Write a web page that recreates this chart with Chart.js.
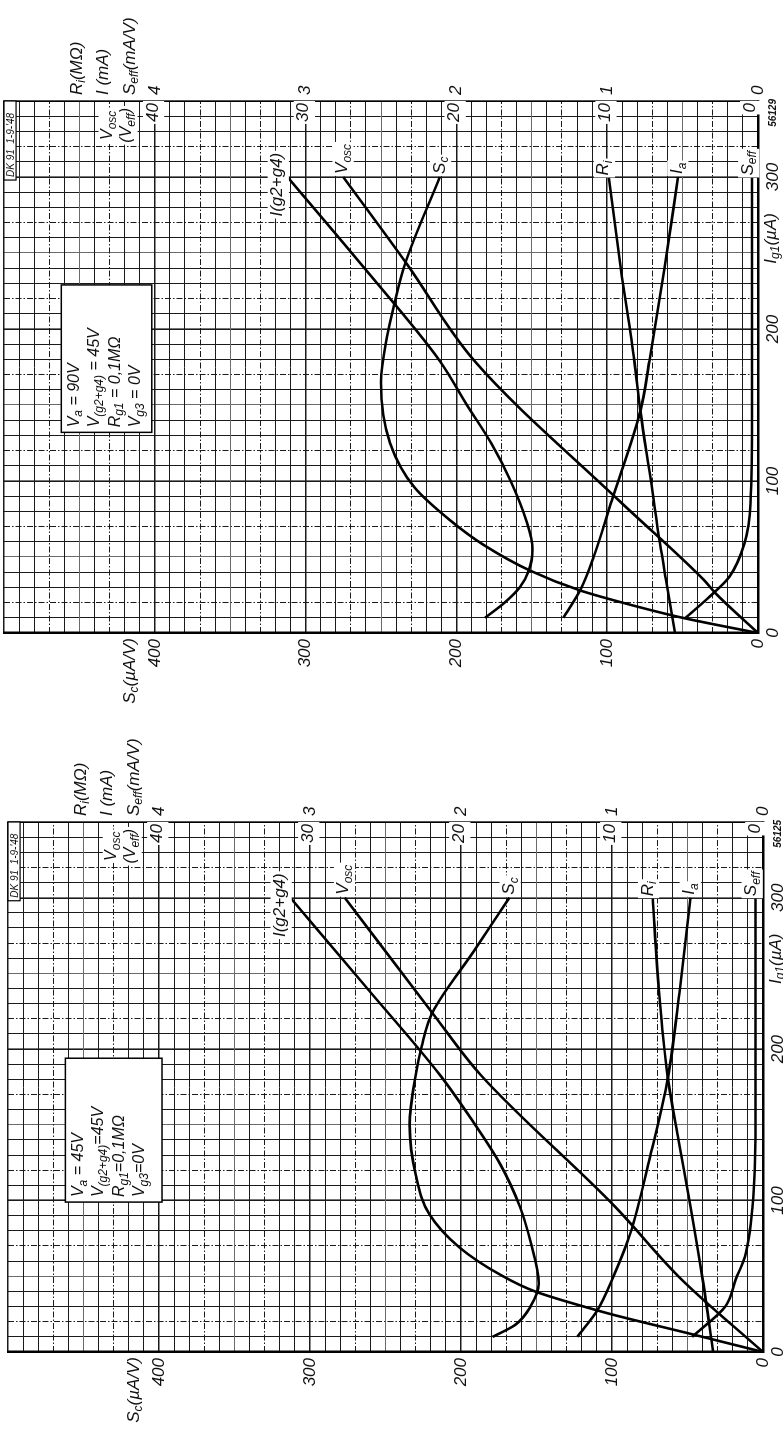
<!DOCTYPE html>
<html>
<head>
<meta charset="utf-8">
<title>DK 91 – conversion characteristics</title>
<script src="https://cdn.jsdelivr.net/npm/chart.js@4.4.1/dist/chart.umd.min.js"></script>
<style>
  html, body { margin: 0; padding: 0; background: #fff; }
  #sheet { position: relative; width: 783px; height: 1435px; overflow: hidden; background: #fff; }
  .panel { position: absolute; left: 0; width: 783px; }
  .turn { position: absolute; left: 0; top: 0; transform-origin: 0 0; }
  canvas { display: block; }
</style>
</head>
<body>
<div id="sheet">
  <div class="panel" style="top:0;height:718px">
    <div class="turn" style="width:718px;height:783px;transform:translate(0,718px) rotate(-90deg)">
      <canvas id="va90" width="718" height="783"></canvas>
    </div>
  </div>
  <div class="panel" style="top:718px;height:717px">
    <div class="turn" style="width:717px;height:783px;transform:translate(0,717px) rotate(-90deg)">
      <canvas id="va45" width="717" height="783"></canvas>
    </div>
  </div>
</div>
<script>
// ---- axis ranges and tick labels ----
const IG1_MAX = 350;          // µA
const VALUE_MAX = 5;          // Ri (MΩ), I (mA), Seff (mA/V)
const ig1TickLabels = [0, 100, 200, 300];
const mainTickLabels = [0, 1, 2, 3, 4];
const voscTickLabels = [0, 10, 20, 30, 40];
const scTickLabels = [0, 100, 200, 300, 400];

// ---- Va = 90 V ----
const ig1_Igs_90 = [10, 20, 30, 41, 55, 75, 100, 125, 150, 179, 240, 300];
const Igs_90 = [1.81, 1.68, 1.58, 1.52, 1.495, 1.54, 1.64, 1.77, 1.93, 2.11, 2.61, 3.12];
const ig1_Vosc_90 = [0, 26, 35, 87, 179, 243, 300];
const Vosc_90 = [0, 2.8, 3.6, 9.2, 18.8, 23.3, 27.5];
const ig1_Sc_90 = [0, 10, 20, 28, 41, 58, 74, 96, 125, 165, 195, 217, 243, 300];
const Sc_90 = [0, 50, 90, 118, 151, 182, 204, 228, 244, 250, 246, 241, 234, 211];
const ig1_Ri_90 = [0, 35, 59, 100, 146, 179, 240, 300];
const Ri_90 = [0.55, 0.61, 0.65, 0.71, 0.78, 0.82, 0.91, 0.99];
const ig1_Ia_90 = [10, 28, 50, 87, 146, 179, 240, 300];
const Ia_90 = [1.29, 1.18, 1.09, 0.97, 0.78, 0.72, 0.62, 0.53];
const ig1_Seff_90 = [10, 24, 37, 59, 85, 150, 300];
const Seff_90 = [0.48, 0.32, 0.19, 0.09, 0.05, 0.04, 0.04];
const params_90 = ['V_{a} = 90V', 'V_{(g2+g4)} = 45V', 'R_{g1} = 0,1MΩ', 'V_{g3} = 0V'];

// ---- Va = 45 V ----
const ig1_Igs_45 = [10, 18, 30, 45, 73, 96, 124, 155, 183, 240, 300];
const Igs_45 = [1.79, 1.64, 1.54, 1.485, 1.54, 1.61, 1.74, 1.94, 2.14, 2.62, 3.13];
const ig1_Vosc_45 = [0, 48, 96, 183, 224, 300];
const Vosc_45 = [0, 5.4, 9.8, 18.7, 21.9, 27.7];
const ig1_Sc_45 = [0, 12, 23, 27, 40, 51, 69, 91, 117, 150, 183, 202, 224, 264, 300];
const Sc_45 = [0, 48, 93, 108, 151, 174, 201, 221, 230, 234, 230, 226, 219, 192, 168];
const ig1_Ri_45 = [0, 48, 96, 140, 181, 240, 300];
const Ri_45 = [0.33, 0.40, 0.48, 0.56, 0.63, 0.69, 0.73];
const ig1_Ia_45 = [10, 27, 50, 78, 128, 181, 240, 300];
const Ia_45 = [1.23, 1.10, 0.99, 0.88, 0.75, 0.63, 0.55, 0.48];
const ig1_Seff_45 = [10, 30, 48, 63, 96, 150, 300];
const Seff_45 = [0.47, 0.25, 0.18, 0.12, 0.07, 0.05, 0.05];
const params_45 = ['V_{a} = 45V', 'V_{(g2+g4)}=45V', 'R_{g1}=0,1MΩ', 'V_{g3}=0V'];

// ---- lettering ----
const FONT = "'Liberation Sans', Arial, sans-serif";
const INK = '#111';
function font(size, weight) { return 'italic ' + (weight || 'normal') + ' ' + size + 'px ' + FONT; }

// "V_{osc}" -> [{t:'V'}, {t:'osc', sub:true}]
function parseRich(s) {
  const out = []; const re = /_\{([^}]*)\}/g; let last = 0, m;
  while ((m = re.exec(s))) {
    if (m.index > last) out.push({ t: s.slice(last, m.index), sub: false });
    out.push({ t: m[1], sub: true });
    last = re.lastIndex;
  }
  if (last < s.length) out.push({ t: s.slice(last), sub: false });
  return out;
}

function drawRich(ctx, str, x, y, o) {
  o = o || {};
  const size = o.size || 17, subSize = Math.round(size * 0.72);
  const parts = parseRich(str);
  ctx.save();
  ctx.textBaseline = 'middle';
  ctx.textAlign = 'left';
  let w = 0;
  for (const p of parts) { ctx.font = font(p.sub ? subSize : size, o.weight); p.w = ctx.measureText(p.t).width; w += p.w; }
  let x0 = o.align === 'right' ? x - w : (o.align === 'center' ? x - w / 2 : x);
  if (o.bg) {
    ctx.fillStyle = '#fff';
    ctx.fillRect(x0 - 2, y - size * 0.58, w + 4, size * 1.25);
  }
  ctx.fillStyle = INK;
  for (const p of parts) {
    ctx.font = font(p.sub ? subSize : size, o.weight);
    ctx.fillText(p.t, x0, p.sub ? y + size * 0.3 : y);
    x0 += p.w;
  }
  ctx.restore();
}

// ---- panel descriptions ----
function curveSet(igs, vosc, sc, ri, ia, seff) {
  return [
    { name: 'I(g2+g4)', xs: igs[0], ys: igs[1], axis: 'y', dx: 274, dy: -10 },
    { name: 'V_{osc}', xs: vosc[0], ys: vosc[1], axis: 'yV', dx: 302, dy: -1 },
    { name: 'S_{c}', xs: sc[0], ys: sc[1], axis: 'ySc', dx: 302, dy: 0 },
    { name: 'R_{i}', xs: ri[0], ys: ri[1], axis: 'y', dx: 301, dy: -5 },
    { name: 'I_{a}', xs: ia[0], ys: ia[1], axis: 'y', dx: 302, dy: -1 },
    { name: 'S_{eff}', xs: seff[0], ys: seff[1], axis: 'y', dx: 301, dy: -4 }
  ];
}

const panels = {
  va90: {
    leftW: 85, rightW: 101, padTop: 4, bottomH: 25, code: '56129',
    params: params_90, box: { x0: 132, x1: 229, y0: 4.02, y1: 4.62 },
    curves: curveSet([ig1_Igs_90, Igs_90], [ig1_Vosc_90, Vosc_90], [ig1_Sc_90, Sc_90],
                     [ig1_Ri_90, Ri_90], [ig1_Ia_90, Ia_90], [ig1_Seff_90, Seff_90])
  },
  va45: {
    leftW: 83, rightW: 104, padTop: 8, bottomH: 20, code: '56125',
    params: params_45, box: { x0: 99, x1: 194, y0: 3.98, y1: 4.62 },
    curves: curveSet([ig1_Igs_45, Igs_45], [ig1_Vosc_45, Vosc_45], [ig1_Sc_45, Sc_45],
                     [ig1_Ri_45, Ri_45], [ig1_Ia_45, Ia_45], [ig1_Seff_45, Seff_45])
  }
};

// ---- sheet lettering drawn from the chart scales ----
const sheetText = {
  id: 'sheetText',
  beforeDatasetsDraw(chart) {
    const p = panels[chart.canvas.id];
    const ctx = chart.ctx, area = chart.chartArea;
    const sx = chart.scales.x, sy = chart.scales.y, sv = chart.scales.yV;

    // operating conditions box
    const bx0 = sx.getPixelForValue(p.box.x0), bx1 = sx.getPixelForValue(p.box.x1);
    const by0 = sy.getPixelForValue(p.box.y1), by1 = sy.getPixelForValue(p.box.y0);
    ctx.save();
    ctx.fillStyle = '#fff';
    ctx.fillRect(bx0, by0, bx1 - bx0, by1 - by0);
    ctx.strokeStyle = '#000'; ctx.lineWidth = 1.5;
    ctx.strokeRect(bx0, by0, bx1 - bx0, by1 - by0);
    ctx.restore();
    p.params.forEach((line, i) => drawRich(ctx, line, bx0 + 5, by0 + 13 + i * 20.5, { size: 16 }));

    // drawing reference box
    const dx0 = sx.getPixelForValue(298), dx1 = area.right;
    const dy0 = area.top, dy1 = sy.getPixelForValue(4.92);
    ctx.save();
    ctx.fillStyle = '#fff'; ctx.fillRect(dx0, dy0, dx1 - dx0, dy1 - dy0);
    ctx.strokeStyle = '#000'; ctx.lineWidth = 1.2; ctx.strokeRect(dx0, dy0, dx1 - dx0, dy1 - dy0);
    ctx.restore();
    drawRich(ctx, "DK 91  1-9-'48", dx0 + 3, (dy0 + dy1) / 2 + 1, { size: 10 });

    // oscillator voltage scale inside the grid
    voscTickLabels.forEach(v => {
      const y = sv.getPixelForValue(v) + (v === 0 ? -8 : -2);
      drawRich(ctx, String(v), area.right - 2, y, { size: 17, align: 'right', bg: true });
    });
    const yTop = sy.getPixelForValue(4);
    const cx = sx.getPixelForValue(334);
    drawRich(ctx, 'V_{osc}', cx, yTop - 47, { size: 16, align: 'center', bg: true });
    drawRich(ctx, '(V_{eff})', cx, yTop - 28, { size: 16, align: 'center', bg: true });
  },
  afterDatasetsDraw(chart) {
    const p = panels[chart.canvas.id];
    const ctx = chart.ctx, sx = chart.scales.x;
    p.curves.forEach(c => {
      const end = c.ys[c.ys.length - 1];
      const y = chart.scales[c.axis].getPixelForValue(end) + c.dy;
      drawRich(ctx, c.name, sx.getPixelForValue(c.dx), y, { size: 17, bg: true });
    });
  },
  afterDraw(chart) {
    const p = panels[chart.canvas.id];
    const ctx = chart.ctx, area = chart.chartArea;
    const sx = chart.scales.x, sy = chart.scales.y;
    const y4 = sy.getPixelForValue(4);
    // unit captions of the right-hand scale
    drawRich(ctx, 'R_{i}(MΩ)', area.right + 6, y4 - 78, { size: 17 });
    drawRich(ctx, 'I (mA)', area.right + 6, y4 - 52, { size: 17 });
    drawRich(ctx, 'S_{eff}(mA/V)', area.right + 6, y4 - 25, { size: 17 });
    // unit caption of the conversion slope scale
    drawRich(ctx, 'S_{c}(µA/V)', area.left - 5, y4 - 25, { size: 17, align: 'right' });
    // grid current caption and drawing number
    drawRich(ctx, 'I_{g1}(µA)', sx.getPixelForValue(243), area.bottom + 13, { size: 17 });
    drawRich(ctx, p.code, sx.getPixelForValue(333), area.bottom + 15, { size: 10, weight: 'bold' });
  }
};

// ---- grid styling ----
const DASH_DOT = [6, 2, 1.5, 2];
function ig1Step(c) { return c.tick ? Math.round(c.tick.value / 10) : -1; }
function valStep(c) { return c.tick ? Math.round(c.tick.value * 10) : -1; }
function noMargins(s) { s.paddingTop = 0; s.paddingBottom = 0; s.paddingLeft = 0; s.paddingRight = 0; }

function buildChart(id) {
  const p = panels[id];
  const tickFont = { family: FONT, size: 17, style: 'italic' };
  return new Chart(document.getElementById(id), {
    type: 'line',
    data: {
      datasets: p.curves.map(c => ({
        label: c.name,
        data: c.xs.map((x, i) => ({ x: x, y: c.ys[i] })),
        xAxisID: 'x', yAxisID: c.axis,
        borderColor: '#000', borderWidth: 2.6,
        pointRadius: 0, fill: false,
        cubicInterpolationMode: 'monotone'
      }))
    },
    options: {
      responsive: false, animation: false, devicePixelRatio: 1, events: [],
      layout: { padding: { top: p.padTop, left: 0, right: 0, bottom: 0 } },
      plugins: { legend: { display: false }, tooltip: { enabled: false } },
      scales: {
        x: {
          type: 'linear', position: 'bottom', min: 0, max: IG1_MAX,
          afterFit: s => { s.height = p.bottomH; noMargins(s); },
          ticks: {
            stepSize: 10, autoSkip: false, minRotation: 0, maxRotation: 0, padding: 5,
            color: INK, font: tickFont,
            callback: v => ig1TickLabels.includes(v) ? String(v) : ''
          },
          grid: {
            drawTicks: false,
            color: c => (ig1Step(c) % 10 === 5 ? '#6a6a6a' : '#1a1a1a'),
            lineWidth: c => { const k = ig1Step(c); return (k % 10 === 0 || k === 35) ? 1.6 : 1; }
          },
          border: {
            display: true, color: '#000', width: 2.5,
            dash: c => { const k = ig1Step(c) % 10; return (k === 2 || k === 7) ? DASH_DOT : []; }
          }
        },
        y: {
          type: 'linear', position: 'right', min: 0, max: VALUE_MAX,
          afterFit: s => { s.width = p.rightW; noMargins(s); },
          ticks: {
            stepSize: 0.1, autoSkip: false, padding: 6, color: INK, font: tickFont,
            callback: v => { const r = Math.round(v * 10) / 10; return mainTickLabels.includes(r) ? String(r) : ''; }
          },
          grid: {
            drawTicks: false,
            color: c => (valStep(c) % 10 === 5 ? '#6a6a6a' : '#1a1a1a'),
            lineWidth: c => (valStep(c) % 10 === 0 ? 1.6 : 1)
          },
          border: {
            display: true, color: '#000', width: 1.5,
            dash: c => { const k = valStep(c) % 10; return (k === 3 || k === 7) ? DASH_DOT : []; }
          }
        },
        ySc: {
          type: 'linear', position: 'left', min: 0, max: 500,
          afterFit: s => { s.width = p.leftW; noMargins(s); },
          ticks: {
            stepSize: 100, autoSkip: false, padding: 6, color: INK, font: tickFont,
            callback: v => scTickLabels.includes(v) ? String(v) : ''
          },
          grid: { display: false, drawTicks: false },
          border: { display: true, color: '#000', width: 2.5 }
        },
        yV: { type: 'linear', display: false, min: 0, max: 50 }
      }
    },
    plugins: [sheetText]
  });
}

buildChart('va90');
buildChart('va45');
</script>
</body>
</html>
